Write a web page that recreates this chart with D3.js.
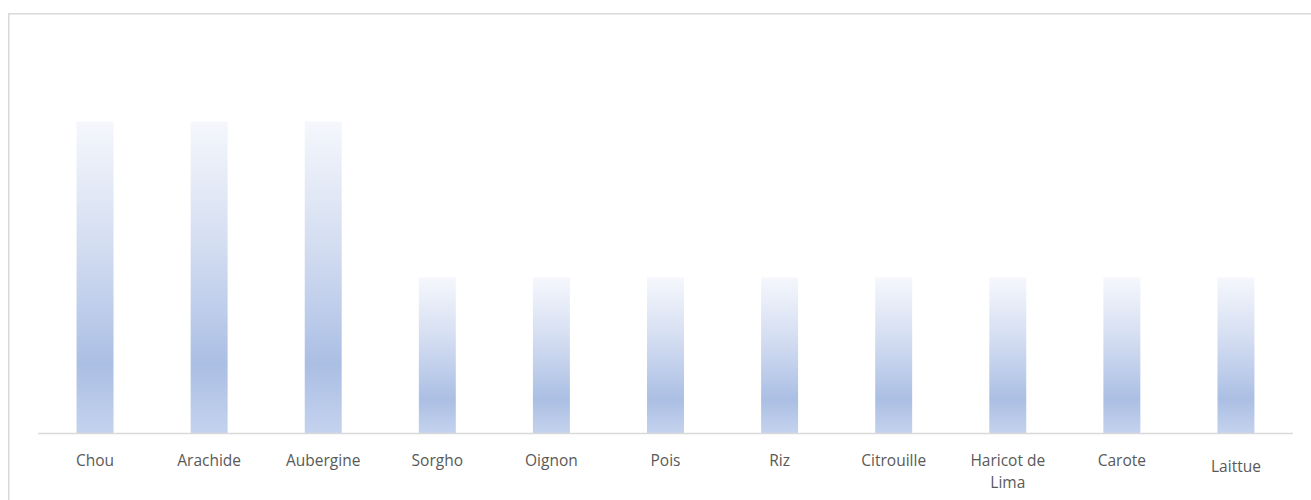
<!DOCTYPE html>
<html>
<head>
<meta charset="utf-8">
<script src="https://cdn.jsdelivr.net/npm/d3@7/dist/d3.min.js"></script>
<style>
  html, body { margin: 0; padding: 0; background: #fff; }
  svg { display: block; }
</style>
</head>
<body>
<svg id="chart" width="1311" height="500"></svg>
<script>
// Crops and their counts
const categories = ["Chou", "Arachide", "Aubergine", "Sorgho", "Oignon", "Pois", "Riz", "Citrouille", "Haricot de Lima", "Carote", "Laittue"];
const values = [2, 2, 2, 1, 1, 1, 1, 1, 1, 1, 1];

const W = 1311, H = 500;
const svg = d3.select("#chart");

// Chart area frame
svg.append("rect")
  .attr("x", 8.75).attr("y", 13.75)
  .attr("width", W + 20).attr("height", H + 20)
  .attr("fill", "#fff")
  .attr("stroke", "#d9d9d9").attr("stroke-width", 1.5);

const plot = { left: 38, right: 1293, top: 43.5, bottom: 433.5 };

const x = d3.scaleBand()
  .domain(categories)
  .range([plot.left, plot.right])
  .paddingInner(0.676)
  .paddingOuter(0.338);

const y = d3.scaleLinear()
  .domain([0, 2.5])
  .range([plot.bottom, plot.top]);

// Vertical gradient used by every bar
const grad = svg.append("defs").append("linearGradient")
  .attr("id", "barFill")
  .attr("x1", 0).attr("y1", 0).attr("x2", 0).attr("y2", 1);
grad.append("stop").attr("offset", "0%").attr("stop-color", "#f5f7fc");
grad.append("stop").attr("offset", "40%").attr("stop-color", "#d3ddf1");
grad.append("stop").attr("offset", "78%").attr("stop-color", "#abbfe4");
grad.append("stop").attr("offset", "100%").attr("stop-color", "#c4d2ed");

svg.append("g")
  .selectAll("rect")
  .data(categories)
  .join("rect")
  .attr("x", d => x(d))
  .attr("width", x.bandwidth())
  .attr("y", (d, i) => y(values[i]))
  .attr("height", (d, i) => y(0) - y(values[i]))
  .attr("fill", "url(#barFill)");

// Category axis
const axis = svg.append("g")
  .attr("transform", `translate(0,${plot.bottom})`)
  .call(d3.axisBottom(x).tickSize(0).tickPadding(0));
axis.select(".domain").attr("stroke", "#d9d9d9").attr("stroke-width", 1.5)
  .attr("d", `M${plot.left},0H${plot.right}`);

axis.selectAll(".tick text")
  .attr("fill", "#595959")
  .style("font-family", "'Open Sans', 'Noto Sans', sans-serif")
  .style("font-size", "15.5px")
  .attr("y", 0)
  .attr("dy", 0)
  .each(function(d) {
    const t = d3.select(this);
    t.text(null);
    // wrap long labels onto two lines
    const lines = d === "Haricot de Lima" ? ["Haricot de", "Lima"] : [d];
    const base = d === "Laittue" ? 38.5 : 32.5;
    lines.forEach((ln, k) => {
      t.append("tspan").attr("x", 0).attr("y", base + k * 22).text(ln);
    });
  });
</script>
</body>
</html>
